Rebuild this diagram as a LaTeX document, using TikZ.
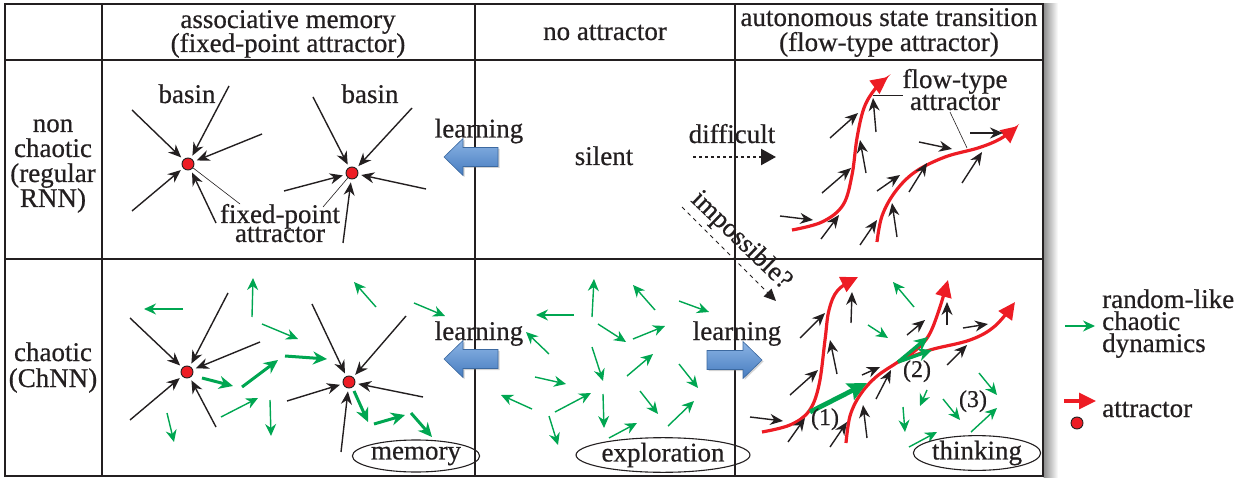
\documentclass[tikz,border=0pt]{standalone}
\usepackage{fontspec}
\setmainfont{Liberation Serif}[FakeBold=0.6]
\usetikzlibrary{arrows.meta,shadows,shapes.geometric}
\definecolor{cgreen}{RGB}{0,166,81}
\definecolor{cred}{RGB}{237,28,36}
\definecolor{ctext}{RGB}{35,31,32}
\definecolor{bluetop}{RGB}{140,180,228}
\definecolor{bluebot}{RGB}{70,124,192}
\definecolor{blueline}{RGB}{60,105,160}
\begin{document}
\begin{tikzpicture}[x=1pt,y=-1pt,
  txt/.style={font=\fontsize{27}{25}\selectfont, inner sep=0pt, text=ctext, anchor=base},
  smalltxt/.style={font=\fontsize{24}{24}\selectfont, inner sep=0pt, text=ctext, anchor=base},
  oval/.style={ellipse, draw=ctext, line width=1.1pt, inner sep=0pt, font=\fontsize{27}{25}\selectfont, text=ctext},
  grid/.style={draw=ctext, line width=1.7pt},
  barr/.style={draw=ctext, line width=1.4pt, -{Stealth[length=13pt,width=11pt]}},
  garr/.style={draw=cgreen, line width=1.4pt, -{Stealth[length=12pt,width=11pt]}},
  gthick/.style={draw=cgreen, line width=3pt, -{Stealth[length=14pt,width=13pt]}},
  gfat/.style={draw=cgreen, line width=4.8pt, -{Stealth[length=19pt,width=18pt,inset=3pt]}},
  rarr/.style={draw=cred, line width=3.2pt, -{Triangle[length=17pt,width=16pt]}},
  fp/.style={circle, fill=cred, draw=ctext, line width=0.9pt, minimum size=12pt, inner sep=0pt},
  fine/.style={draw=ctext, line width=0.6pt},
  blockarrow/.style={top color=bluetop, bottom color=bluebot, draw=blueline, line width=0.6pt,
     drop shadow={opacity=0.35, shadow xshift=1.5pt, shadow yshift=-1.5pt}},
  toP/.style={barr, shorten >=3pt}
]
\useasboundingbox (0,0) rectangle (1250,478);
% right-side shadow
\shade[left color=black!45, right color=white] (1043.5,4) rectangle (1058,478);
% table
\draw[grid] (5,4) rectangle (1043,476);
\draw[grid] (102,4) -- (102,476);
\draw[grid] (475,4) -- (475,476);
\draw[grid] (735,4) -- (735,476);
\draw[grid] (5,60) -- (1043,60);
\draw[grid] (5,259) -- (1043,259);

% headers
\node[txt] (h1a) at (288,28) {associative memory};
\node[txt] (h1b) at (288,52) {(fixed-point attractor)};
\node[txt] (h2) at (605,40) {no attractor};
\node[txt] (h3a) at (889,26) {autonomous state transition};
\node[txt] (h3b) at (889,51) {(flow-type attractor)};
% row labels
\node[txt] (r1a) at (53,132) {non};
\node[txt] (r1b) at (53,157) {chaotic};
\node[txt] (r1c) at (53,182) {(regular};
\node[txt] (r1d) at (53,207) {RNN)};
\node[txt] (r2a) at (53,361) {chaotic};
\node[txt] (r2b) at (53,387) {(ChNN)};

% ---------- row 1, col 1 ----------
\node[fp] (p1) at (188,164) {};
\node[fp] (p2) at (352,173) {};
\node[txt] (basin1) at (187,103) {basin};
\node[txt] (basin2) at (370,103) {basin};
\draw[fine] (p1) -- (240,204);
\draw[fine] (p2) -- (323,207);
\node[txt] (fpa) at (280,223) {fixed-point};
\node[txt] (fpb) at (280,242) {attractor};
\foreach \s in {(132,110),(229,86),(262,134),(132,211),(216,223)} \draw[toP] \s -- (p1);
\foreach \s in {(313,97),(412,108),(426,189),(284,191),(343,243)} \draw[toP] \s -- (p2);

% ---------- row 1, col 2 ----------
\shadedraw[blockarrow] (444,157) -- (463,138.5) -- (463,147.5) -- (498,147.5) -- (498,166.5) -- (463,166.5) -- (463,175.5) -- cycle;
\node[txt] (learn1) at (479,137.5) {learning};
\node[txt] (silent) at (604,165) {silent};
\node[txt] (diff) at (732,143) {difficult};
\coordinate (d0) at (693,157);
\coordinate (d1) at (776,157);
\draw[draw=ctext, line width=2.4pt, dash pattern=on 3pt off 3pt, -{Triangle[length=15pt,width=16pt]}] (d0) -- (d1);
\node[font=\fontsize{27}{25}\selectfont, inner sep=0pt, text=ctext, rotate=-44] (imp) at (741,241) {impossible?};
\coordinate (i0) at (682,207);
\coordinate (i1) at (776,301);
\draw[draw=ctext, line width=0.9pt, dash pattern=on 4pt off 4pt, -{Triangle[length=12pt,width=11pt]}] (i0) -- (i1);

% ---------- row 1, col 3 ----------
\draw[rarr] plot[smooth, tension=0.6] coordinates {(792,230) (822,222) (843,205) (852,175) (857,138) (864,108) (875,89) (888,77)};
\draw[rarr] plot[smooth, tension=0.6] coordinates {(877,242) (882,216) (895,192) (915,172) (945,157) (978,148) (1000,139) (1018,126)};
\draw[barr] (780,216) -- (813,220);
\draw[barr] (821,239) -- (839,215);
\draw[barr] (822,193) -- (851,168);
\draw[barr] (830,138) -- (858,113);
\draw[barr] (866,173) -- (860,140);
\draw[barr] (876,132) -- (873,98);
\draw[barr] (860,245) -- (877,220);
\draw[barr] (897,237) -- (892,203);
\draw[barr] (877,191) -- (900,175);
\draw[barr] (909,192) -- (927,163);
\draw[barr] (919,142) -- (952,149);
\draw[barr] (962,183) -- (982,152);
\draw[barr] (970,133) -- (1003,133);
\node[txt] (ft1) at (955,88) {flow-type};
\node[txt] (ft2) at (955,110) {attractor};
\draw[fine] (873,95) -- (903,95);
\draw[fine] (950,112) -- (967,148);

% ---------- row 2, col 1 ----------
\node[fp] (pA) at (187,372) {};
\node[fp] (pB) at (349,382) {};
\foreach \s in {(130,318),(228,293),(260,342),(130,420),(216,427)} \draw[toP] \s -- (pA);
\foreach \s in {(312,304),(406,316),(423,397),(287,401),(341,452)} \draw[toP] \s -- (pB);
\draw[garr] (183,309) -- (144,309);
\draw[garr] (252,317) -- (253,278);
\draw[garr] (262,324) -- (298,339);
\draw[garr] (376,307) -- (354,282);
\draw[garr] (414,303) -- (445,316);
\draw[garr] (221,417) -- (258,398);
\draw[garr] (167,413) -- (174,442);
\draw[garr] (270,400) -- (271,436);
\draw[gthick] (202,378) -- (233,386);
\draw[gthick] (242,387) -- (278,360);
\draw[gthick] (285,356) -- (327,359);
\draw[gthick] (354,391) -- (368,422);
\draw[gthick] (374,424) -- (405,415);
\draw[gthick] (411,413) -- (432,437);
\node[oval, minimum width=108pt, minimum height=32pt] (mem) at (416,456) {memory};

% ---------- row 2, col 2 ----------
\draw[garr] (574,315) -- (536,315);
\draw[garr] (592,317) -- (594,279);
\draw[garr] (655,310) -- (633,285);
\draw[garr] (679,301) -- (709,312);
\draw[garr] (549,354) -- (526,332);
\draw[garr] (598,324) -- (626,342);
\draw[garr] (633,339) -- (665,326);
\draw[garr] (592,347) -- (603,381);
\draw[garr] (627,376) -- (653,354);
\draw[garr] (679,364) -- (698,388);
\draw[garr] (535,377) -- (566,384);
\draw[garr] (532,409) -- (501,395);
\draw[garr] (555,412) -- (591,393);
\draw[garr] (603,394) -- (604,428);
\draw[garr] (640,391) -- (658,414);
\draw[garr] (668,426) -- (694,401);
\draw[garr] (549,416) -- (558,445);
\draw[garr] (609,438) -- (637,423);
\node[oval, minimum width=137pt, minimum height=34pt] (expl) at (663,455) {exploration};
\shadedraw[blockarrow] (444,359) -- (463,340.5) -- (463,349.5) -- (498,349.5) -- (498,368.5) -- (463,368.5) -- (463,377.5) -- cycle;
\shadedraw[blockarrow] (762,360) -- (743,341.5) -- (743,350.5) -- (707,350.5) -- (707,369.5) -- (743,369.5) -- (743,378.5) -- cycle;
\node[txt] (learn2) at (479,340) {learning};
\node[txt] (learn3) at (737,340) {learning};

% ---------- row 2, col 3 ----------
\draw[rarr] plot[smooth, tension=0.6] coordinates {(762,432) (790,425) (809,411) (819,385) (825,340) (829,310) (838,290) (858,277)};
\draw[rarr] plot[smooth, tension=0.6] coordinates {(846,443) (850,416) (860,395) (876,377) (898,362) (916,350) (929,335) (939,310) (948,280)};
\draw[rarr] plot[smooth, tension=0.6] coordinates {(898,362) (930,350) (970,340) (995,326) (1015,302)};
\draw[barr] (750,417) -- (783,421);
\draw[barr] (788,442) -- (805,418);
\draw[barr] (790,395) -- (818,370);
\draw[barr] (800,338) -- (825,313);
\draw[barr] (837,374) -- (830,340);
\draw[barr] (851,323) -- (852,292);
\draw[barr] (830,447) -- (847,422);
\draw[barr] (867,438) -- (863,405);
\draw[barr] (876,399) -- (891,370);
\draw[barr] (862,375) -- (880,367);
\draw[barr] (907,335) -- (925,320);
\draw[barr] (947,325) -- (947,302);
\draw[barr] (947,365) -- (967,345);
\draw[barr] (963,328) -- (988,324);
\draw[gfat] (810,412) -- (867,383);
\coordinate (c2) at (898,362);
\draw[draw=cgreen, line width=3.4pt, -{Stealth[length=14pt,width=13pt]}] (c2) -- (928,337);
\draw[draw=cgreen, line width=3.4pt, -{Stealth[length=14pt,width=13pt]}] (c2) -- (932,350);
\draw[garr] (914,307) -- (893,282);
\draw[garr] (868,325) -- (888,338);
\draw[garr] (903,407) -- (905,432);
\draw[garr] (927,390) -- (920,406);
\draw[garr] (943,399) -- (960,420);
\draw[garr] (979,373) -- (997,395);
\draw[garr] (971,432) -- (997,408);
\draw[garr] (909,447) -- (937,432);
\node[smalltxt] (n1) at (825,425) {(1)};
\node[smalltxt] (n2) at (917,377) {(2)};
\node[smalltxt] (n3) at (973,407) {(3)};
\node[oval, minimum width=122pt, minimum height=31pt] (think) at (977,453) {thinking};

% ---------- legend ----------
\coordinate (lg0) at (1065,326);
\coordinate (lg1) at (1095,326);
\draw[garr] (lg0) -- (lg1);
\node[txt, anchor=base west] (lt1) at (1102,308) {random-like};
\node[txt, anchor=base west] (lt2) at (1102,330) {chaotic};
\node[txt, anchor=base west] (lt3) at (1102,352) {dynamics};
\coordinate (lr0) at (1064,401);
\coordinate (lr1) at (1096,401);
\draw[rarr] (lr0) -- (lr1);
\node[txt, anchor=base west] (lt4) at (1102,417) {attractor};
\node[fp] (ldot) at (1077,423) {};
\end{tikzpicture}
\end{document}
